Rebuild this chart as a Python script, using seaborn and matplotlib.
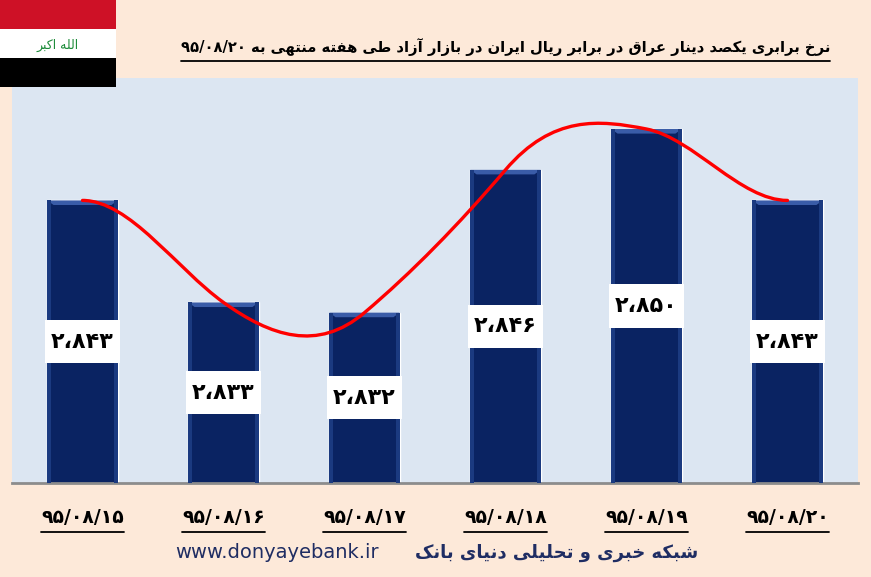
import re
import numpy as np
import pandas as pd
import seaborn as sns
import matplotlib
matplotlib.use("Agg")
import matplotlib.pyplot as plt
from matplotlib.path import Path
from matplotlib.patches import PathPatch, Rectangle, Polygon
from matplotlib.lines import Line2D

# ---------------- data ----------------
dates = ["95/08/15", "95/08/16", "95/08/17", "95/08/18", "95/08/19", "95/08/20"]
rates = [2843, 2833, 2832, 2846, 2850, 2843]
title_text = "نرخ برابری یکصد دینار عراق در برابر ریال ایران در بازار آزاد طی هفته منتهی به ۹۵/۰۸/۲۰"
footer_fa = "شبکه خبری و تحلیلی دنیای بانک"
footer_url = "www.donyayebank.ir"
flag_text = "الله اكبر"

FA_DIGITS = str.maketrans("0123456789", "۰۱۲۳۴۵۶۷۸۹")

# ---------------- minimal Arabic/Persian shaping ----------------
FORMS = {
    "\u0627": ("\uFE8D", "\uFE8E", None, None),
    "\u0622": ("\uFE81", "\uFE82", None, None),
    "\u0628": ("\uFE8F", "\uFE90", "\uFE91", "\uFE92"),
    "\u062A": ("\uFE95", "\uFE96", "\uFE97", "\uFE98"),
    "\u062D": ("\uFEA1", "\uFEA2", "\uFEA3", "\uFEA4"),
    "\u062E": ("\uFEA5", "\uFEA6", "\uFEA7", "\uFEA8"),
    "\u062F": ("\uFEA9", "\uFEAA", None, None),
    "\u0631": ("\uFEAD", "\uFEAE", None, None),
    "\u0632": ("\uFEAF", "\uFEB0", None, None),
    "\u0634": ("\uFEB5", "\uFEB6", "\uFEB7", "\uFEB8"),
    "\u0635": ("\uFEB9", "\uFEBA", "\uFEBB", "\uFEBC"),
    "\u0637": ("\uFEC1", "\uFEC2", "\uFEC3", "\uFEC4"),
    "\u0639": ("\uFEC9", "\uFECA", "\uFECB", "\uFECC"),
    "\u0641": ("\uFED1", "\uFED2", "\uFED3", "\uFED4"),
    "\u0642": ("\uFED5", "\uFED6", "\uFED7", "\uFED8"),
    "\u0643": ("\uFED9", "\uFEDA", "\uFEDB", "\uFEDC"),
    "\u0644": ("\uFEDD", "\uFEDE", "\uFEDF", "\uFEE0"),
    "\u0645": ("\uFEE1", "\uFEE2", "\uFEE3", "\uFEE4"),
    "\u0646": ("\uFEE5", "\uFEE6", "\uFEE7", "\uFEE8"),
    "\u0647": ("\uFEE9", "\uFEEA", "\uFEEB", "\uFEEC"),
    "\u0648": ("\uFEED", "\uFEEE", None, None),
    "\u06CC": ("\uFBFC", "\uFBFD", "\uFBFE", "\uFBFF"),
    "\u06A9": ("\uFB8E", "\uFB8F", "\uFB90", "\uFB91"),
}
LAM_ALEF = {"\u0627": ("\uFEFB", "\uFEFC"), "\u0622": ("\uFEF5", "\uFEF6")}


def shape(text):
    chars = list(text)
    n = len(chars)
    out = []
    i = 0
    while i < n:
        c = chars[i]
        if c not in FORMS:
            out.append(c)
            i += 1
            continue
        prev = chars[i - 1] if i > 0 else None
        nxt = chars[i + 1] if i + 1 < n else None
        cp = prev in FORMS and FORMS[prev][2] is not None
        if c == "\u0644" and nxt in LAM_ALEF:
            out.append(LAM_ALEF[nxt][1] if cp else LAM_ALEF[nxt][0])
            i += 2
            continue
        cn = nxt in FORMS and FORMS[c][2] is not None
        f = FORMS[c]
        if cp and cn:
            out.append(f[3])
        elif cp:
            out.append(f[1])
        elif cn:
            out.append(f[2])
        else:
            out.append(f[0])
        i += 1
    s = "".join(out)
    toks = re.findall(r"[0-9\u06F0-\u06F9][0-9\u06F0-\u06F9/\u060C.]*|.", s)
    return "".join(reversed(toks))


# ---------------- figure ----------------
sns.set_theme(style="white")
plt.rcParams["font.family"] = ["DejaVu Sans"]

W, H = 871, 577
fig = plt.figure(figsize=(W / 100, H / 100), dpi=100)
fig.patch.set_facecolor("#FDE9D9")

# plot area in pixels: x 12..858, y 78..483
ax = fig.add_axes([12 / W, (H - 483) / H, (858 - 12) / W, (483 - 78) / H])
ax.set_facecolor("#DCE6F2")

df = pd.DataFrame({"date": dates, "rate": rates})
sns.barplot(data=df, x="date", y="rate", color="#0A2362", saturation=1,
            width=0.5, ax=ax, zorder=2)
ymin, ymax = 2815.3, 2855.0
ax.set_ylim(ymin, ymax)
ax.set_xlim(-0.5, len(dates) - 0.5)

for sp in ["top", "left", "right"]:
    ax.spines[sp].set_visible(False)
ax.spines["bottom"].set_color("#8C8C8C")
ax.spines["bottom"].set_linewidth(2.0)
ax.set_yticks([])
ax.set_xlabel("")
ax.set_ylabel("")
ax.tick_params(axis="x", length=0, pad=18)
ax.set_xticks(range(len(dates)))
ax.set_xticklabels([d.translate(FA_DIGITS) for d in dates],
                   fontsize=13.5, fontweight="bold", color="black")

# bevel on bars
for p in ax.patches:
    x0, w = p.get_x(), p.get_width()
    top = p.get_height()
    dy = 0.45
    dx = 0.045
    ax.add_patch(Polygon([[x0, top], [x0 + w, top], [x0 + w - dx, top - dy],
                          [x0 + dx, top - dy]], closed=True,
                         facecolor="#3A5CA8", edgecolor="none", zorder=3))
    ax.add_patch(Rectangle((x0, ymin), dx * 0.6, top - ymin, facecolor="#1B3A80",
                           edgecolor="none", zorder=3))
    ax.add_patch(Rectangle((x0 + w - dx * 0.6, ymin), dx * 0.6, top - ymin,
                           facecolor="#1B3A80", edgecolor="none", zorder=3))

# smoothed red line (Excel-style Bezier through the values)
xs = np.arange(len(rates), dtype=float)
ys = np.array(rates, dtype=float)
kx, ky = 1 / 6, 0.3
n = len(xs)
verts = [(xs[0], ys[0])]
codes = [Path.MOVETO]
for i in range(n - 1):
    # tangent at point i and i+1 (flat at the ends)
    def tan(j):
        if j == 0:
            return np.array([xs[1] - xs[0], 0.0]) * 2 * kx / 2 * 2, 0.0
        if j == n - 1:
            return np.array([xs[j] - xs[j - 1], 0.0]) * 2 * kx / 2 * 2, 0.0
        return np.array([kx * (xs[j + 1] - xs[j - 1]), ky * (ys[j + 1] - ys[j - 1])]), 1.0
    t1, _ = tan(i)
    t2, _ = tan(i + 1)
    p1 = np.array([xs[i], ys[i]])
    p2 = np.array([xs[i + 1], ys[i + 1]])
    c1 = p1 + t1
    c2 = p2 - t2
    verts += [tuple(c1), tuple(c2), tuple(p2)]
    codes += [Path.CURVE4] * 3
ax.add_patch(PathPatch(Path(verts, codes), facecolor="none", edgecolor="#FF0000",
                       linewidth=2.4, zorder=4, capstyle="round"))

# value labels in white boxes
bw, bh = 0.525, 4.25
for i, v in enumerate(rates):
    yc = (ymin + v) / 2
    ax.add_patch(Rectangle((i - bw / 2, yc - bh / 2), bw, bh, facecolor="white",
                           edgecolor="none", zorder=5))
    lab = f"{v:,}".replace(",", "\u060C").translate(FA_DIGITS)
    ax.text(i, yc, lab, ha="center", va="center", fontsize=16,
            fontweight="bold", color="black", zorder=6)

# flag
fax = fig.add_axes([0, (H - 87) / H, 116 / W, 87 / H])
fax.set_xlim(0, 1)
fax.set_ylim(0, 3)
fax.axis("off")
fax.add_patch(Rectangle((0, 2), 1, 1, facecolor="#CE1126", edgecolor="none"))
fax.add_patch(Rectangle((0, 1), 1, 1, facecolor="white", edgecolor="none"))
fax.add_patch(Rectangle((0, 0), 1, 1, facecolor="black", edgecolor="none"))
fax.text(0.5, 1.45, shape(flag_text), ha="center", va="center", fontsize=9,
         color="#1E8C3A")

# title
t = fig.text(830 / W, 1 - 47 / H, shape(title_text), ha="right", va="center",
             fontsize=10.6, fontweight="bold", color="black")

# footer
fig.text(175 / W, 1 - 553 / H, footer_url, ha="left", va="center", fontsize=14,
         color="#1F2D63")
fig.text(698 / W, 1 - 553 / H, shape(footer_fa), ha="right", va="center",
         fontsize=13, fontweight="bold", color="#1F2D63")

# underlines
fig.canvas.draw()
r = fig.canvas.get_renderer()


def underline(txt, y_px, lw=1.3):
    bb = txt.get_window_extent(renderer=r)
    fig.add_artist(Line2D([bb.x0 / W, bb.x1 / W], [1 - y_px / H, 1 - y_px / H],
                          transform=fig.transFigure, color="black", linewidth=lw))


underline(t, 61)
for tl in ax.get_xticklabels():
    underline(tl, 532)

fig.savefig("out.png", dpi=100, facecolor=fig.get_facecolor())
